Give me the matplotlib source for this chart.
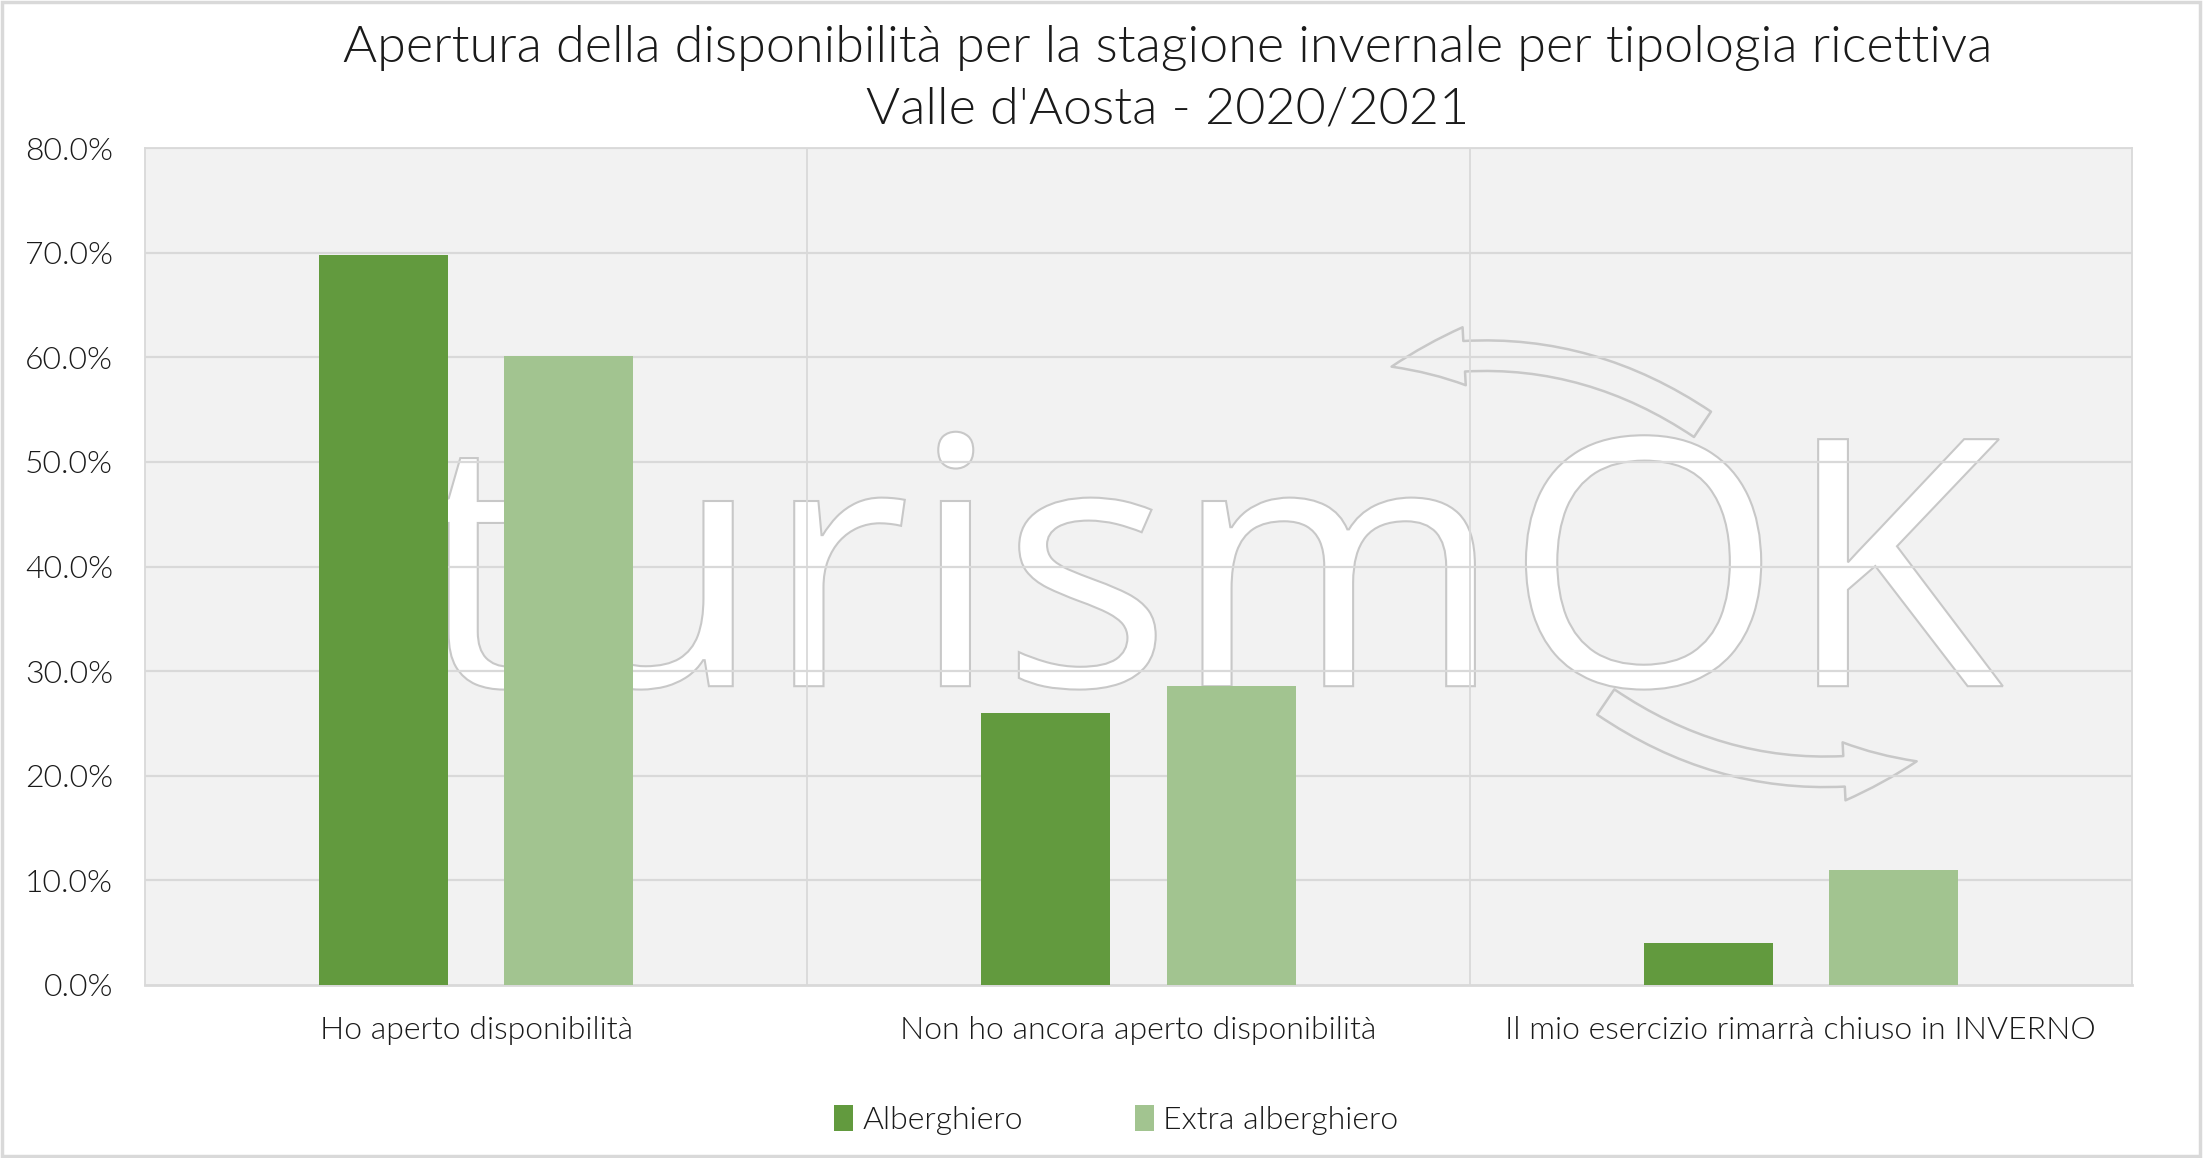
import matplotlib.pyplot as plt
from matplotlib.patches import FancyArrowPatch, Rectangle, PathPatch
from matplotlib.textpath import TextPath
from matplotlib.font_manager import FontProperties
from matplotlib.transforms import Affine2D
import numpy as np

# dati
categorie = ["Ho aperto disponibilità", "Non ho ancora aperto disponibilità",
             "Il mio esercizio rimarrà chiuso in INVERNO"]
alberghiero = [69.8, 26.0, 4.0]
extra_alberghiero = [60.1, 28.6, 11.0]
serie = ["Alberghiero", "Extra alberghiero"]
colori = ["#629a3e", "#a2c490"]

plt.rcParams['font.family'] = ['Lato', 'DejaVu Sans']
plt.rcParams['font.weight'] = 300
testo = "#1a1a1a"

fig = plt.figure(figsize=(22.04, 11.58), dpi=100)
ax = fig.add_axes([145 / 2204, 1 - 985 / 1158, 1987 / 2204, 837 / 1158])
ax.set_facecolor("#f2f2f2")

x = np.arange(len(categorie))
larg = 0.195
ax.bar(x - 0.14, alberghiero, larg, color=colori[0], zorder=3, label=serie[0])
ax.bar(x + 0.14, extra_alberghiero, larg, color=colori[1], zorder=3, label=serie[1])

ax.set_xlim(-0.5, 2.5)
ax.set_ylim(0, 80)
yt = np.arange(0, 81, 10)
ax.set_yticks(yt)
ax.set_yticklabels([f"{v:.1f}%" for v in yt], fontsize=23, color=testo, fontweight=300)
ax.set_xticks(x)
ax.set_xticklabels(categorie, fontsize=23, color=testo, fontweight=300)
ax.tick_params(length=0)
ax.tick_params(axis='x', pad=22)
ax.tick_params(axis='y', pad=23)

# griglia
for v in yt[1:]:
    ax.axhline(v, color="#d9d9d9", lw=1.6, zorder=2)
for s in [0.5, 1.5]:
    ax.axvline(s, color="#d9d9d9", lw=1.3, zorder=2)
for sp in ax.spines.values():
    sp.set_color("#d9d9d9")
    sp.set_linewidth(1.3)
ax.spines['bottom'].set_linewidth(2)

# logo in filigrana
tp = TextPath((0, 0), "turismOK", size=1,
              prop=FontProperties(family="Open Sans", weight="normal"))
ext = tp.get_extents()
x0, x1, y0, y1 = 0.139, 0.935, 0.357, 0.661
tr = Affine2D().translate(-ext.x0, 0).scale((x1 - x0) / ext.width, (y1 - y0) / ext.y1).translate(x0, y0)
ax.add_patch(PathPatch(tr.transform_path(tp), transform=ax.transAxes, fc="white",
                       ec="#c8c8c8", lw=1.5, zorder=1))
arr_kw = dict(arrowstyle="simple,head_width=1.9,head_length=2.4,tail_width=1.0",
              mutation_scale=22, fc="none", ec="#c8c8c8", lw=1.8, zorder=1)
ax.add_patch(FancyArrowPatch((0.785, 0.668), (0.626, 0.738), transform=ax.transAxes,
                             connectionstyle="arc3,rad=0.22", **arr_kw))
ax.add_patch(FancyArrowPatch((0.734, 0.340), (0.893, 0.268), transform=ax.transAxes,
                             connectionstyle="arc3,rad=0.22", **arr_kw))

fig.suptitle("Apertura della disponibilità per la stagione invernale per tipologia ricettiva\n"
             "Valle d'Aosta - 2020/2021", x=1168 / 2204, y=1 - 25 / 1158, va="top",
             fontsize=37.5, color=testo, fontweight=300, linespacing=1.42)

ax.legend(loc="center", bbox_to_anchor=(1116 / 2204, 1 - 1120 / 1158),
          bbox_transform=fig.transFigure, ncol=2, frameon=False,
          prop={'size': 23, 'weight': 300},
          handlelength=0.6, handleheight=0.9, handletextpad=0.3, columnspacing=3.5,
          labelcolor=testo)

fig.add_artist(Rectangle((0.001, 0.002), 0.997, 0.996, transform=fig.transFigure,
                         fill=False, ec="#d9d9d9", lw=2.5))

fig.savefig("out.png", dpi=100)
